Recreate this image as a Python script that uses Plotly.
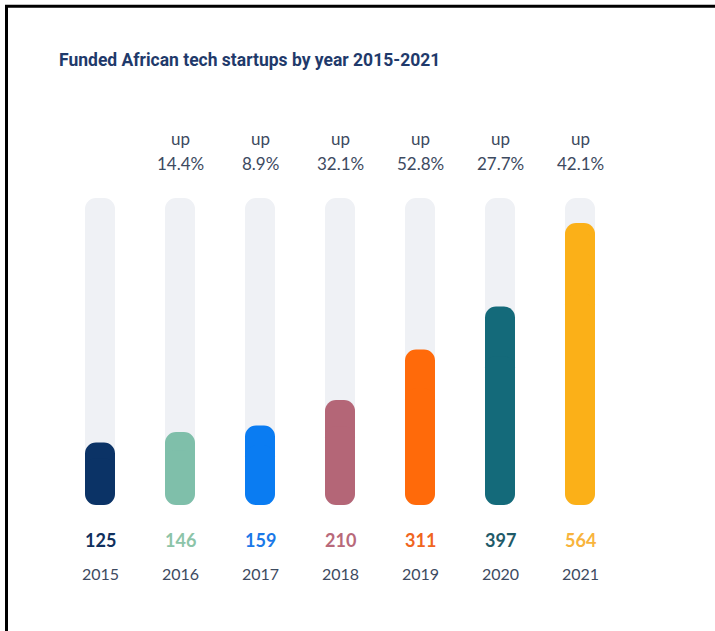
import plotly.graph_objects as go

# Data
years = ["2015", "2016", "2017", "2018", "2019", "2020", "2021"]
startups = [125, 146, 159, 210, 311, 397, 564]
growth = [None, "14.4%", "8.9%", "32.1%", "52.8%", "27.7%", "42.1%"]
bar_colors = ["#0b3366", "#7fbfaa", "#0a7cf2", "#b46677", "#ff6a0a", "#146a7a", "#fbb018"]
value_colors = ["#10305e", "#8cc4a8", "#1a78e8", "#b8697a", "#f0651e", "#1f5a68", "#f8b43c"]
track_max = 614

TRACK = "#eff1f5"
TEXT = "#3d4a5f"
TITLE = "#1f3a6b"
BODY_FONT = "Lato, Open Sans, sans-serif"

W, H = 715, 631
xs = list(range(len(years)))
# x: 80 px per category, first column centred 100 px from the left,
# so a 30 px column has its sides on whole pixels
px_per_x = 80
bar_w = 30 / px_per_x
radius = 11

fig = go.Figure()


def rounded_column(values, colors):
    """Column rounded at both ends: an upper part rounded on top and a
    lower part, drawn downward from its base, rounded at the bottom.
    The two parts overlap over the middle half of the column."""
    up = [v * 0.75 for v in values]
    up_base = [v * 0.25 for v in values]
    down = [-v * 0.75 for v in values]
    down_base = [v * 0.75 for v in values]
    for y, base in ((up, up_base), (down, down_base)):
        fig.add_trace(go.Bar(
            x=xs, y=y, base=base, width=bar_w,
            marker=dict(color=colors, line=dict(width=0), cornerradius=radius),
            hoverinfo="skip", showlegend=False,
        ))


# background tracks, then the yearly counts on top
rounded_column([track_max] * len(years), TRACK)
rounded_column(startups, bar_colors)

# value and year labels under each column
for i, (yr, v) in enumerate(zip(years, startups)):
    fig.add_annotation(x=i, y=-70, text=f"<b>{v}</b>", showarrow=False,
                       font=dict(family=BODY_FONT, size=18, weight=900,
                                 color=value_colors[i]),
                       xanchor="center", yanchor="middle")
    fig.add_annotation(x=i, y=-136, text=yr, showarrow=False,
                       font=dict(family=BODY_FONT, size=16, color=TEXT),
                       xanchor="center", yanchor="middle")

# year-over-year growth above each column
for i, g in enumerate(growth):
    if g is None:
        continue
    fig.add_annotation(x=i, y=734, text="up", showarrow=False,
                       font=dict(family=BODY_FONT, size=17, color=TEXT),
                       xanchor="center", yanchor="middle")
    fig.add_annotation(x=i, y=684, text=g, showarrow=False,
                       font=dict(family=BODY_FONT, size=17, color=TEXT),
                       xanchor="center", yanchor="middle")

# title
fig.add_annotation(x=57 / W, y=1 - 60 / H, xref="paper", yref="paper",
                   text="<b>Funded African tech startups by year 2015-2021</b>",
                   showarrow=False, xanchor="left", yanchor="middle",
                   font=dict(family="Roboto, sans-serif", size=17.5, weight=900,
                             color=TITLE))

# frame edges along the left and top
fig.add_shape(type="path", xref="paper", yref="paper",
              path=f"M {6.5 / W},0 L {6.5 / W},{1 - 6.3 / H} L 1,{1 - 6.3 / H}",
              line=dict(color="#000000", width=3))

x0 = -100 / px_per_x
# y: 0.5 px per startup, baseline 505 px from the top
px_per_y = 0.5
y0 = -(H - 505) / px_per_y
y1 = 505 / px_per_y

fig.update_layout(
    width=W, height=H,
    margin=dict(l=0, r=0, t=0, b=0),
    paper_bgcolor="white", plot_bgcolor="white",
    barmode="overlay",
    xaxis=dict(range=[x0, x0 + W / px_per_x], visible=False, fixedrange=True),
    yaxis=dict(range=[y0, y1], visible=False, fixedrange=True),
)

fig.write_html("out.html")
